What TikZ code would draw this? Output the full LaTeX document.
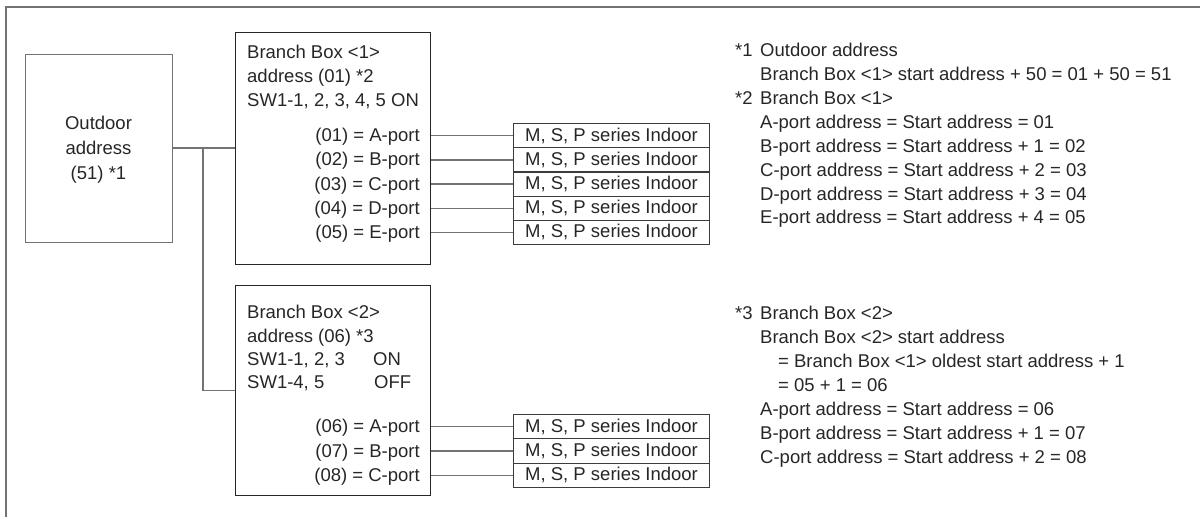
\documentclass[tikz,border=0pt]{standalone}
\usepackage{fontspec}
\setmainfont{Liberation Sans}
\definecolor{lgray}{gray}{0.45}
\definecolor{ldark}{gray}{0.15}
\definecolor{txt}{gray}{0.15}
\tikzset{
  box/.style={draw=ldark, line width=1.2pt, anchor=north west, inner sep=0pt},
  obox/.style={draw=lgray, line width=1.3pt, anchor=north west, inner sep=0pt},
  ibox/.style={draw=ldark!90, line width=1.1pt, anchor=north west, inner sep=0pt,
    minimum width=196pt, minimum height=24.2pt, font=\fontsize{18.5}{23.7}\selectfont, text=txt},
  conn/.style={draw=lgray, line width=1.3pt},
  tl/.style={anchor=base west, inner sep=0pt, text=txt, font=\fontsize{18.5}{23.7}\selectfont},
  tr/.style={anchor=base east, inner sep=0pt, text=txt, font=\fontsize{18.5}{23.7}\selectfont},
  tc/.style={anchor=base, inner sep=0pt, text=txt, font=\fontsize{18.5}{23.7}\selectfont},
}
\newcommand{\starlbl}[2]{\makebox[25pt][l]{#1}#2}
\begin{document}
\begin{tikzpicture}[x=1pt,y=-1pt]
\useasboundingbox (0,0) rectangle (1200,517);
% frame
\draw[draw=lgray, line width=1.5pt] (6,517) -- (6,7) -- (1200,7);

% outdoor unit
\node[obox, minimum width=147pt, minimum height=188pt] (od) at (25,54) {};
\node[tc] (od1) at (98.5,129.6) {Outdoor};
\node[tc] (od2) at (98.5,154.6) {address};
\node[tc] (od3) at (98.5,179.6) {(51) *1};

% branch boxes
\node[box, minimum width=195pt, minimum height=232pt] (b1) at (235,32) {};
\node[box, minimum width=195pt, minimum height=210pt] (b2) at (235,285) {};

% connectors outdoor -> branch boxes
\coordinate (j) at (203,148);
\draw[conn] (od.east |- j) -- (b1.west |- j);
\draw[conn] (j) |- (b2.west);

% box 1 header
\node[tl] (h11) at (247,58.4) {Branch Box <1>};
\node[tl] (h12) at (247,82.4) {address (01) *2};
\node[tl] (h13) at (247,106.4) {SW1-1, 2, 3, 4, 5 ON};

% box 2 header
\node[tl] (h21) at (247,318.6) {Branch Box <2>};
\node[tl] (h22) at (247,342.3) {address (06) *3};
\node[tl] (h23) at (247,365.6) {\makebox[126pt][l]{SW1-1, 2, 3}ON};
\node[tl] (h24) at (247,388.6) {\makebox[127pt][l]{SW1-4, 5}OFF};

% box 1 ports and indoor units
\foreach \n/\t/\lab [count=\i from 0] in {a/01/A,b/02/B,c/03/C,d/04/D,e/05/E}{
  \pgfmathsetmacro{\yy}{123+24.2*\i}
  \pgfmathsetmacro{\yc}{\yy+12.1}
  \pgfmathsetmacro{\yb}{\yc+6.6}
  \node[ibox] (i1\n) at (513,\yy) {M, S, P series Indoor};
  \node[tr] (p1\n) at (420,\yb) {(\t) = \lab-port};
  \draw[conn] (b1.east |- i1\n.west) -- (i1\n.west);
}

% box 2 ports and indoor units
\foreach \n/\t/\lab [count=\i from 0] in {a/06/A,b/07/B,c/08/C}{
  \pgfmathsetmacro{\yy}{414+24.33*\i}
  \pgfmathsetmacro{\yc}{\yy+12.17}
  \pgfmathsetmacro{\yb}{\yc+6.6}
  \node[ibox, minimum height=24.33pt] (i2\n) at (513,\yy) {M, S, P series Indoor};
  \node[tr] (p2\n) at (420,\yb) {(\t) = \lab-port};
  \draw[conn] (b2.east |- i2\n.west) -- (i2\n.west);
}

% notes 1 and 2
\node[tl] (n1) at (735,56.6) {\starlbl{*1}{Outdoor address}};
\node[tl] (n2) at (760,80.5) {Branch Box <1> start address + 50 = 01 + 50 = 51};
\node[tl] (n3) at (735,104.4) {\starlbl{*2}{Branch Box <1>}};
\node[tl] (n4) at (760,128.3) {A-port address = Start address = 01};
\node[tl] (n5) at (760,152.2) {B-port address = Start address + 1 = 02};
\node[tl] (n6) at (760,176.1) {C-port address = Start address + 2 = 03};
\node[tl] (n7) at (760,200.0) {D-port address = Start address + 3 = 04};
\node[tl] (n8) at (760,223.9) {E-port address = Start address + 4 = 05};

% note 3
\node[tl] (m1) at (735,319.6) {\starlbl{*3}{Branch Box <2>}};
\node[tl] (m2) at (760,343.6) {Branch Box <2> start address};
\node[tl] (m3) at (778,367.6) {= Branch Box <1> oldest start address + 1};
\node[tl] (m4) at (778,391.6) {= 05 + 1 = 06};
\node[tl] (m5) at (760,415.6) {A-port address = Start address = 06};
\node[tl] (m6) at (760,439.6) {B-port address = Start address + 1 = 07};
\node[tl] (m7) at (760,463.6) {C-port address = Start address + 2 = 08};
\end{tikzpicture}
\end{document}
